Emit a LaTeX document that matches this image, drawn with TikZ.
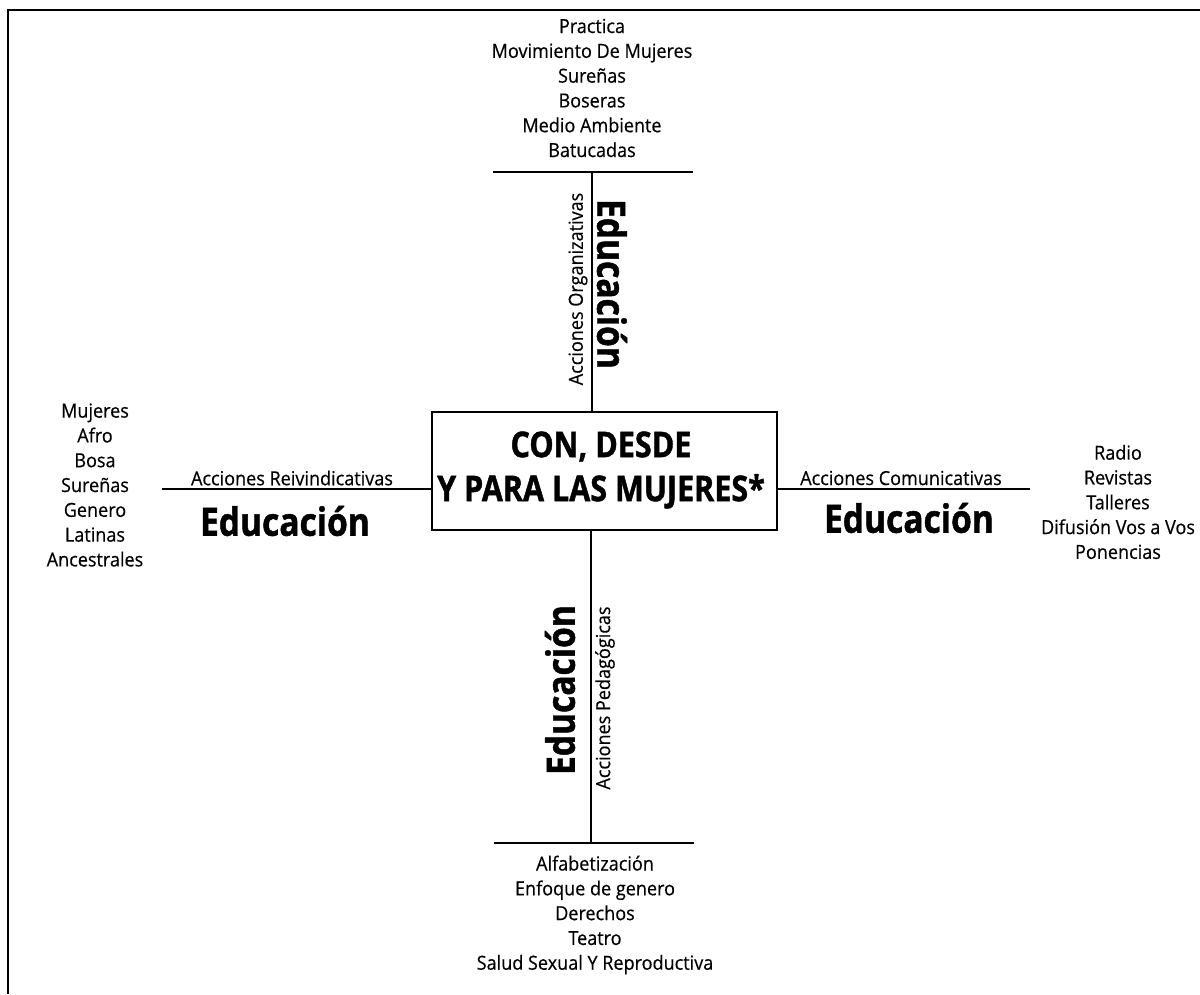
\documentclass[tikz,border=0pt]{standalone}
\usepackage{fontspec}
\setmainfont{Open Sans}
\newfontfamily\angosta[FakeStretch=0.93,FakeBold=0.4]{Open Sans}
\newfontfamily\estrecha[FakeStretch=0.86,FakeBold=1.2]{Open Sans}
\usetikzlibrary{positioning}

\tikzset{
  lista/.style={align=center, inner sep=0pt, font=\angosta\fontsize{19.4}{24.8}\selectfont},
  accion/.style={inner sep=0pt, font=\angosta\fontsize{19.4}{22}\selectfont},
  edu/.style={inner sep=0pt, font=\estrecha\bfseries\fontsize{39}{40}\selectfont},
  centro/.style={align=center, inner sep=0pt, font=\estrecha\bfseries\fontsize{35.5}{44}\selectfont},
  caja/.style={draw, line width=1.6pt, minimum width=345pt, minimum height=118pt, inner sep=0pt},
  linea/.style={line width=1.6pt},
}

\begin{document}
\begin{tikzpicture}[x=1pt,y=-1pt]
			\useasboundingbox (0,0) rectangle (1200,994);
			% Marco
			\draw[line width=2.8pt] (8,994) -- (8,10) -- (1200,10);

			% Centro
			\node[caja] (hub) at (604.5,471) {};
			\node[centro] (lema) at (601,470) {CON, DESDE\\Y PARA LAS MUJERES*};

			% Brazos
			\coordinate (nIzq) at (493,172);
			\coordinate (nDer) at (693,172);
			\coordinate (nEje) at (592,172);
			\coordinate (sIzq) at (494,843);
			\coordinate (sDer) at (694,843);
			\coordinate (sEje) at (591,843);
			\coordinate (oFin) at (162,489);
			\coordinate (eFin) at (1030,489);

			\draw[linea] (nIzq) -- (nDer);
			\draw[linea] (nEje) -- (nEje |- hub.north);
			\draw[linea] (sIzq) -- (sDer);
			\draw[linea] (sEje) -- (sEje |- hub.south);
			\draw[linea] (oFin) -- (oFin -| hub.west);
			\draw[linea] (eFin) -- (eFin -| hub.east);

			% Rotulos
			\node[accion,rotate=90] (org) at (578,289) {Acciones Organizativas};
			\node[edu,rotate=-90] (eduN) at (612,284) {Educación};
			\node[edu,rotate=90] (eduS) at (560,690) {Educación};
			\node[accion,rotate=90] (ped) at (605,698) {Acciones Pedagógicas};
			\node[accion] (rei) at (292,478) {Acciones Reivindicativas};
			\node[edu] (eduO) at (285,521) {Educación};
			\node[accion] (com) at (901,478) {Acciones Comunicativas};
			\node[edu] (eduE) at (909,518) {Educación};

			% Listas
			\node[lista] (lN) at (592,88) {Practica\\Movimiento De Mujeres\\Sureñas\\Boseras\\Medio Ambiente\\Batucadas};
			\node[lista] (lO) at (95,485) {Mujeres\\Afro\\Bosa\\Sureñas\\Genero\\Latinas\\Ancestrales};
			\node[lista] (lE) at (1118,502) {Radio\\Revistas\\Talleres\\Difusión Vos a Vos\\Ponencias};
			\node[lista] (lS) at (595,915) {Alfabetización\\Enfoque de genero\\Derechos\\Teatro\\Salud Sexual Y Reproductiva};

		    \end{tikzpicture}
\end{document}
